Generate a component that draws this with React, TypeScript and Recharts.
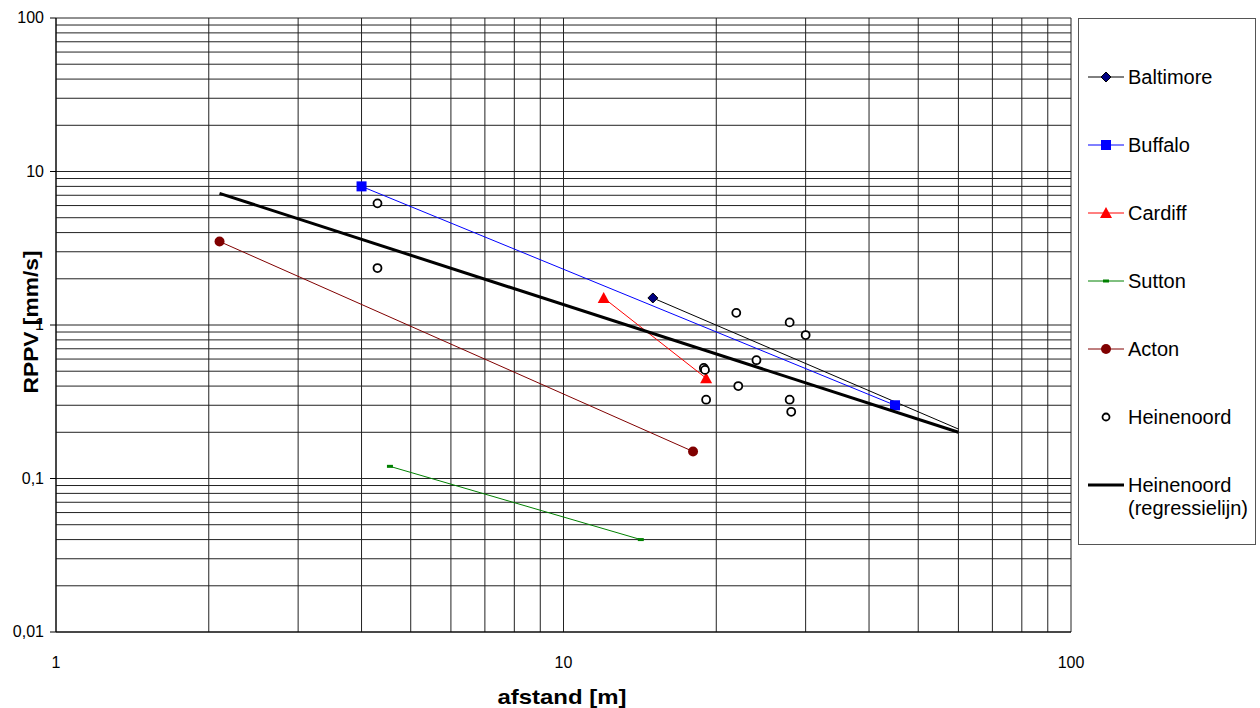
import React from 'react';
import { ScatterChart, Scatter, XAxis, YAxis, CartesianGrid } from 'recharts';

const BALTIMORE = [{ x: 15, y: 1.5 }, { x: 60, y: 0.21 }];
const BUFFALO = [{ x: 4, y: 8 }, { x: 45, y: 0.3 }];
const CARDIFF = [{ x: 12, y: 1.5 }, { x: 19.1, y: 0.45 }];
const SUTTON = [{ x: 4.55, y: 0.12 }, { x: 14.2, y: 0.04 }];
const ACTON = [{ x: 2.1, y: 3.5 }, { x: 18, y: 0.15 }];
const HEINENOORD = [
  { x: 4.3, y: 6.2 }, { x: 4.3, y: 2.35 }, { x: 21.9, y: 1.2 }, { x: 27.9, y: 1.04 },
  { x: 30, y: 0.86 }, { x: 24, y: 0.59 }, { x: 18.9, y: 0.525 }, { x: 19, y: 0.51 },
  { x: 22.1, y: 0.4 }, { x: 19.1, y: 0.326 }, { x: 27.9, y: 0.326 }, { x: 28.1, y: 0.272 },
];
const REGRESSION = [{ x: 2.1, y: 7.2 }, { x: 60, y: 0.2 }];

const X_DECADES = [1, 10, 100];
const Y_DECADES = [0.01, 0.1, 1, 10, 100];
const minorTicks = (decades: number[]) => {
  const out: number[] = [];
  decades.slice(0, -1).forEach((d) => {
    for (let m = 1; m < 10; m++) out.push(+(d * m).toPrecision(3));
  });
  out.push(decades[decades.length - 1]);
  return out;
};
const X_TICKS = minorTicks(X_DECADES);
const Y_TICKS = minorTicks(Y_DECADES);
const fmt = (v: number) => String(v).replace('.', ',');

const FONT = 'Arial, "Liberation Sans", sans-serif';

const YTick = (props: any) => {
  const v = props.payload.value;
  if (!Y_DECADES.includes(v)) return null;
  return (
    <g>
      <line x1={50} x2={56} y1={props.y} y2={props.y} stroke="#000" />
      <text x={44} y={props.y + 5} textAnchor="end" fontSize={16} fontFamily={FONT} fill="#000">
        {fmt(v)}
      </text>
    </g>
  );
};

const XTick = (props: any) => {
  const v = props.payload.value;
  if (!X_DECADES.includes(v)) return null;
  return (
    <text x={props.x} y={668} textAnchor="middle" fontSize={16} fontFamily={FONT} fill="#000">
      {fmt(v)}
    </text>
  );
};

const diamond = (props: any) => {
  const { cx, cy, payload } = props;
  if (payload.x !== BALTIMORE[0].x) return <g />;
  return <path d={`M${cx},${cy - 5}L${cx + 5},${cy}L${cx},${cy + 5}L${cx - 5},${cy}Z`} fill="#000080" stroke="#000" strokeWidth={1} />;
};
const square = (props: any) => <rect x={props.cx - 5} y={props.cy - 5} width={10} height={10} fill="#0000ff" />;
const triangle = (props: any) => (
  <path d={`M${props.cx},${props.cy - 6}L${props.cx + 6},${props.cy + 5}L${props.cx - 6},${props.cy + 5}Z`} fill="#ff0000" />
);
const dash = (props: any) => <rect x={props.cx - 3} y={props.cy - 1.5} width={6} height={3} fill="#008000" />;
const dot = (props: any) => <circle cx={props.cx} cy={props.cy} r={5} fill="#800000" />;
const ring = (props: any) => <circle cx={props.cx} cy={props.cy} r={4} fill="#fff" stroke="#000" strokeWidth={1.8} />;
const none = () => <g />;

const LEGEND_ITEMS = [
  { name: 'Baltimore', color: '#000', icon: 'diamond' },
  { name: 'Buffalo', color: '#0000ff', icon: 'square' },
  { name: 'Cardiff', color: '#ff0000', icon: 'triangle' },
  { name: 'Sutton', color: '#008000', icon: 'dash' },
  { name: 'Acton', color: '#800000', icon: 'dot' },
  { name: 'Heinenoord', color: '#000', icon: 'ring' },
  { name: 'Heinenoord (regressielijn)', color: '#000', icon: 'thick' },
];

const LegendIcon = ({ icon, color }: { icon: string; color: string }) => {
  const c = 18;
  return (
    <svg width={36} height={20} style={{ flex: 'none', display: 'block' }}>
      {icon !== 'ring' && <line x1={0} x2={36} y1={10} y2={10} stroke={color} strokeWidth={icon === 'thick' ? 3 : 1} />}
      {icon === 'diamond' && <path d={`M${c},5L${c + 5},10L${c},15L${c - 5},10Z`} fill="#000080" stroke="#000" />}
      {icon === 'square' && <rect x={c - 5} y={5} width={10} height={10} fill={color} />}
      {icon === 'triangle' && <path d={`M${c},4L${c + 6},15L${c - 6},15Z`} fill={color} />}
      {icon === 'dash' && <rect x={c - 3} y={8.5} width={6} height={3} fill={color} />}
      {icon === 'dot' && <circle cx={c} cy={10} r={5} fill={color} />}
      {icon === 'ring' && <circle cx={c} cy={10} r={3.5} fill="#fff" stroke="#000" strokeWidth={1.8} />}
    </svg>
  );
};

const LegendBox = () => (
  <div
    style={{
      position: 'absolute',
      left: 1078,
      top: 18,
      width: 178,
      height: 527,
      border: '1px solid #555',
      boxSizing: 'border-box',
      background: '#fff',
      fontFamily: FONT,
      fontSize: 20,
      color: '#000',
    }}
  >
    {LEGEND_ITEMS.map((it, i) => (
      <div
        key={it.name}
        style={{ position: 'absolute', left: 9, top: 47 + i * 68, display: 'flex', alignItems: 'flex-start' }}
      >
        <div style={{ marginTop: 1 }}>
          <LegendIcon icon={it.icon} color={it.color} />
        </div>
        <span style={{ marginLeft: 4, lineHeight: '23px', width: 135 }}>{it.name}</span>
      </div>
    ))}
  </div>
);

export default function App() {
  return (
    <div style={{ position: 'absolute', left: 0, top: 0, width: 1260, height: 708, background: '#fff' }}>
      <ScatterChart width={1260} height={708} margin={{ top: 18, right: 189, left: 0, bottom: 0 }}>
        <CartesianGrid stroke="#222" strokeWidth={1} />
        <XAxis
          type="number"
          dataKey="x"
          scale="log"
          domain={[1, 100]}
          ticks={X_TICKS}
          interval={0}
          allowDataOverflow
          height={76}
          tick={<XTick />}
          tickLine={false}
          axisLine={{ stroke: '#000' }}
        />
        <YAxis
          type="number"
          dataKey="y"
          scale="log"
          domain={[0.01, 100]}
          ticks={Y_TICKS}
          interval={0}
          allowDataOverflow
          width={56}
          tick={<YTick />}
          tickLine={false}
          axisLine={{ stroke: '#000' }}
        />
        <Scatter name="Baltimore" data={BALTIMORE} line={{ stroke: '#000', strokeWidth: 1 }} shape={diamond} isAnimationActive={false} />
        <Scatter name="Buffalo" data={BUFFALO} line={{ stroke: '#0000ff', strokeWidth: 1 }} shape={square} isAnimationActive={false} />
        <Scatter name="Cardiff" data={CARDIFF} line={{ stroke: '#ff0000', strokeWidth: 1 }} shape={triangle} isAnimationActive={false} />
        <Scatter name="Sutton" data={SUTTON} line={{ stroke: '#008000', strokeWidth: 1 }} shape={dash} isAnimationActive={false} />
        <Scatter name="Acton" data={ACTON} line={{ stroke: '#800000', strokeWidth: 1 }} shape={dot} isAnimationActive={false} />
        <Scatter name="Heinenoord (regressielijn)" data={REGRESSION} line={{ stroke: '#000', strokeWidth: 3 }} shape={none} isAnimationActive={false} />
        <Scatter name="Heinenoord" data={HEINENOORD} shape={ring} isAnimationActive={false} />
        <text
          x={562}
          y={704}
          textAnchor="middle"
          fontSize={21}
          fontWeight="bold"
          fontFamily={FONT}
          textLength={129}
          lengthAdjust="spacingAndGlyphs"
        >
          afstand [m]
        </text>
        <text
          x={38}
          y={322}
          transform="rotate(-90 38 322)"
          textAnchor="middle"
          fontSize={21}
          fontWeight="bold"
          fontFamily={FONT}
          textLength={143}
          lengthAdjust="spacingAndGlyphs"
        >
          RPPV [mm/s]
        </text>
      </ScatterChart>
      <LegendBox />
    </div>
  );
}
